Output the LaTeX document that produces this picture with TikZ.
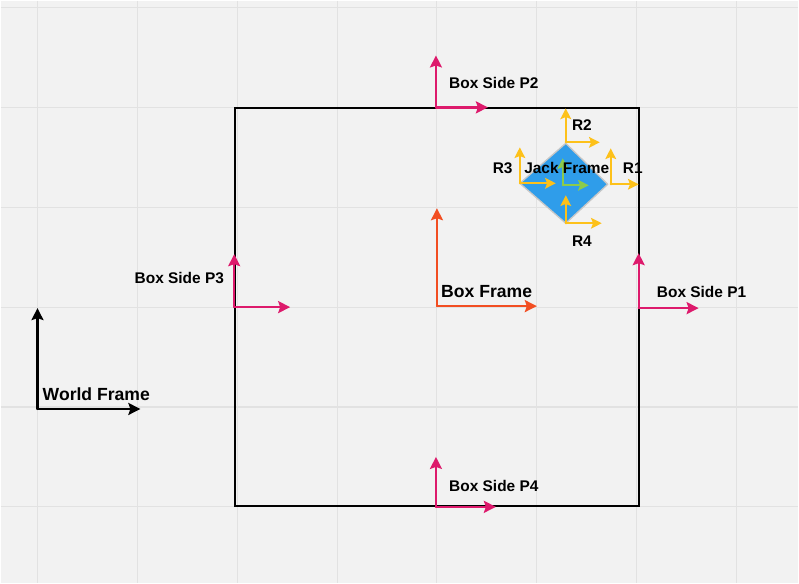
\documentclass[tikz,border=0pt]{standalone}
\usepackage{fontspec}
\setmainfont{Liberation Sans}
\usepackage{tikz}
\usetikzlibrary{arrows.meta}
\definecolor{PaperGrey}{HTML}{F2F2F2}
\definecolor{GridGrey}{HTML}{E2E2E2}
\definecolor{SideMagenta}{HTML}{DD1A6C}
\definecolor{BoxOrange}{HTML}{F24E22}
\definecolor{ContactYellow}{HTML}{FDC11A}
\definecolor{JackBlue}{HTML}{2F9DEA}
\definecolor{JackGreen}{HTML}{8CCB4B}

\begin{document}
\begin{tikzpicture}[
  x = .75pt, y = -.75pt,
  axis/.style = {-{Stealth[length = 9pt, width = 9pt, inset = 1.5pt]},
      line width = 1.7pt, line cap = round},
  small axis/.style = {-{Stealth[length = 8pt, width = 8pt, inset = 1.5pt]},
      line width = 1.6pt, line cap = round},
  lbl/.style = {font = \bfseries\fontsize{11.6}{13}\selectfont, inner sep = 0pt},
  big lbl/.style = {font = \bfseries\fontsize{13.2}{15}\selectfont, inner sep = 0pt}
]
  \fill[PaperGrey] (0, 0) rectangle (799, 583);
  \foreach \x in {37, 137, ..., 737}
  \draw[GridGrey, line width = .8pt] (\x, 0) -- (\x, 583);
  \foreach \y in {7, 107, ..., 507}
  \draw[GridGrey, line width = .8pt] (0, \y) -- (799, \y);

  \draw[line width = 1.5pt] (235, 108) rectangle (639, 506);

  \foreach \n/\ox/\oy/\uy/\rx/\c in {
      W/37/409/308/140/black, B/437/306/208/537/BoxOrange,
      P1/639/308/253/699/SideMagenta, P2/436/107/55/488/SideMagenta,
      P3/234/307/254/290/SideMagenta, P4/436/507/457/496/SideMagenta}
  {
    \coordinate (\n-o) at (\ox, \oy);
    \coordinate (\n-y) at (\ox, \uy);
    \coordinate (\n-x) at (\rx, \oy);
    \draw[axis, \c] (\n-o) -- (\n-y);
    \draw[axis, \c] (\n-o) -- (\n-x);
  }

  \node[big lbl, anchor = base west] (W-lbl) at (42, 401) {World Frame};
  \node[big lbl, anchor = base west] (B-lbl) at (441, 297) {Box Frame};
  \node[lbl, anchor = base west] (P1-lbl) at (657, 297) {Box Side P1};
  \node[lbl, anchor = base west] (P2-lbl) at (449, 88) {Box Side P2};
  \node[lbl, anchor = base east] (P3-lbl) at (224, 283) {Box Side P3};
  \node[lbl, anchor = base west] (P4-lbl) at (449, 492) {Box Side P4};

  % jack
  \coordinate (J-top) at (566, 143);
  \coordinate (J-right) at (608, 184);
  \coordinate (J-bottom) at (566, 223);
  \coordinate (J-left) at (520, 183);
  \filldraw[fill = JackBlue, draw = black!22, line width = 1pt, line join = round]
  (J-top) -- (J-right) -- (J-bottom) -- (J-left) -- cycle;

  \coordinate (J-o) at (563, 185);
  \coordinate (J-y) at (563, 158);
  \coordinate (J-x) at (589, 185);
  \draw[small axis, JackGreen] (J-o) -- (J-y);
  \draw[small axis, JackGreen] (J-o) -- (J-x);

  \foreach \n/\ox/\oy/\uy/\rx in {
      R1/611/184/148/639, R2/566/142/108/600,
      R3/520/183/147/556, R4/566/223/195/602}
  {
    \coordinate (\n-o) at (\ox, \oy);
    \coordinate (\n-y) at (\ox, \uy);
    \coordinate (\n-x) at (\rx, \oy);
    \draw[small axis, ContactYellow] (\n-o) -- (\n-y);
    \draw[small axis, ContactYellow] (\n-o) -- (\n-x);
  }

  \node[lbl, anchor = base] (J-lbl) at (567, 173) {Jack Frame};
  \node[lbl, anchor = base west] (R1-lbl) at (623, 173) {R1};
  \node[lbl, anchor = base west] (R2-lbl) at (572, 130) {R2};
  \node[lbl, anchor = base east] (R3-lbl) at (513, 173) {R3};
  \node[lbl, anchor = base west] (R4-lbl) at (572, 246) {R4};
\end{tikzpicture}
\end{document}
